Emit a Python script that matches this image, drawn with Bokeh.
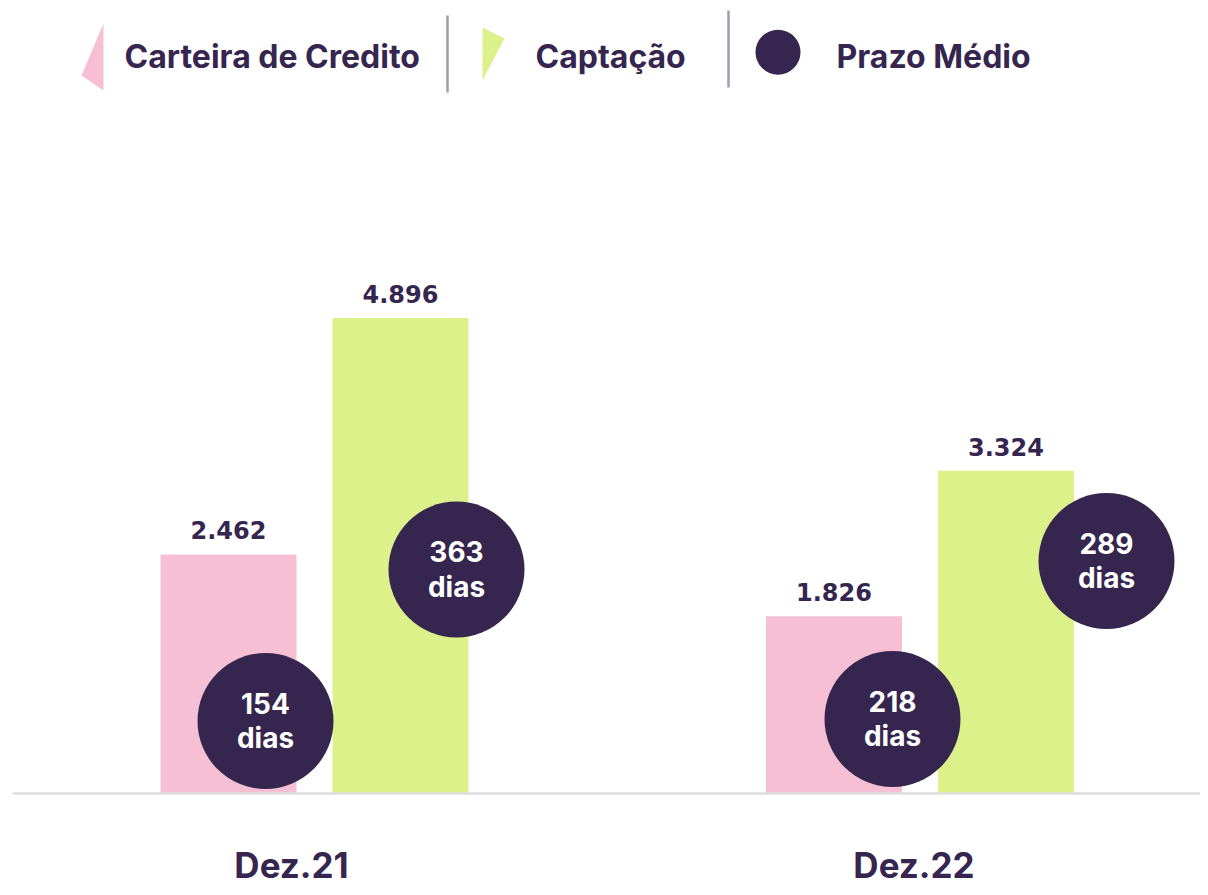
from bokeh.plotting import figure
from bokeh.models import Range1d
from bokeh.core.properties import value
from bokeh.embed import file_html
from bokeh.resources import INLINE

# ---------------- data ----------------
categories = ["Dez.21", "Dez.22"]
carteira = [2.462, 1.826]
captacao = [4.896, 3.324]
prazo_carteira = [154, 218]
prazo_captacao = [363, 289]
series_names = ["Carteira de Credito", "Captação", "Prazo Médio"]

# ---------------- style ----------------
PINK = "#F7BFD4"
GREEN = "#DDF18A"
DARK = "#36264F"
SEP = "#A39CB0"
BASE = "#DEDEDE"

W, H = 1200, 887
# pixel layout (figure pixels)
CAT0_PX = 314.0
CAT_STEP_PX = 605.5
BASE_PX = 793.0
PX_PER_UNIT = 97.1


def xd(px):
    return (px - CAT0_PX) / CAT_STEP_PX


def yd(py):
    return (BASE_PX - py) / PX_PER_UNIT


p = figure(width=W, height=H, output_backend="svg", toolbar_location=None,
           x_range=Range1d(xd(0), xd(W)), y_range=Range1d(yd(H), yd(0)),
           min_border=0, outline_line_color=None, background_fill_color="white",
           border_fill_color="white")
p.axis.visible = False
p.grid.visible = False

idx = list(range(len(categories)))
bar_w = 136 / CAT_STEP_PX
off = 86 / CAT_STEP_PX
x_cart = [i - off for i in idx]
x_capt = [i + off for i in idx]

p.vbar(x=x_cart, top=carteira, bottom=0, width=bar_w, fill_color=PINK, line_color=None)
p.vbar(x=x_capt, top=captacao, bottom=0, width=bar_w, fill_color=GREEN, line_color=None)

# baseline
p.segment(x0=[xd(12)], y0=[0], x1=[xd(1210)], y1=[0], line_color=BASE, line_width=2.5)

# value labels
lab_dy = 24 / PX_PER_UNIT
fmt = lambda v: f"{v:.3f}"
for xs, vals in ((x_cart, carteira), (x_capt, captacao)):
    p.text(x=xs, y=[v + lab_dy for v in vals], text=[fmt(v) for v in vals],
           text_align="center", text_baseline="middle", text_font=value("DejaVu Sans"),
           text_font_style="bold", text_font_size="24px", text_color=DARK)

# prazo medio circles (layout offsets in pixels relative to the bar centre)
circ_cart_dx = [37, 58.5]
circ_cart_py = [720.5, 718.5]
circ_capt_dx = [56, 100.5]
circ_capt_py = [569, 560.5]
cx = [x + d / CAT_STEP_PX for x, d in zip(x_cart, circ_cart_dx)] + \
     [x + d / CAT_STEP_PX for x, d in zip(x_capt, circ_capt_dx)]
cy = [yd(v) for v in circ_cart_py] + [yd(v) for v in circ_capt_py]
days = prazo_carteira + prazo_captacao
p.scatter(x=cx, y=cy, size=136, marker="circle", fill_color=DARK, line_color=None)
p.text(x=cx, y=[c + 18 / PX_PER_UNIT for c in cy], text=[str(d) for d in days],
       text_align="center", text_baseline="middle", text_font=value("Inter"),
       text_font_style="bold", text_font_size="28px", text_color="white")
p.text(x=cx, y=[c - 17 / PX_PER_UNIT for c in cy], text=["dias"] * len(days),
       text_align="center", text_baseline="middle", text_font=value("Inter"),
       text_font_style="bold", text_font_size="28px", text_color="white")

# category labels
lab_dx = [-23, -6]
p.text(x=[i + d / CAT_STEP_PX for i, d in zip(idx, lab_dx)], y=[yd(864)] * len(idx),
       text=categories, text_align="center", text_baseline="middle",
       text_font=value("Inter"), text_font_style="bold", text_font_size="35px",
       text_color=DARK)

# ---------------- legend ----------------
p.patch(x=[xd(103), xd(81), xd(103)], y=[yd(23), yd(75), yd(90)],
        fill_color=PINK, line_color=None)
p.patch(x=[xd(482), xd(504), xd(482)], y=[yd(27), yd(38), yd(80)],
        fill_color=GREEN, line_color=None)
p.scatter(x=[xd(777.5)], y=[yd(51.7)], size=45, marker="circle",
          fill_color=DARK, line_color=None)
p.segment(x0=[xd(447), xd(728)], y0=[yd(15), yd(10)], x1=[xd(447), xd(728)],
          y1=[yd(92), yd(87)], line_color=SEP, line_width=2.5)
p.text(x=[xd(124), xd(535), xd(836)], y=[yd(56)] * 3, text=series_names,
       text_align="left", text_baseline="middle", text_font=value("Inter"),
       text_font_style="bold", text_font_size="32px", text_color=DARK)

open("out.html", "w").write(file_html(p, INLINE))
